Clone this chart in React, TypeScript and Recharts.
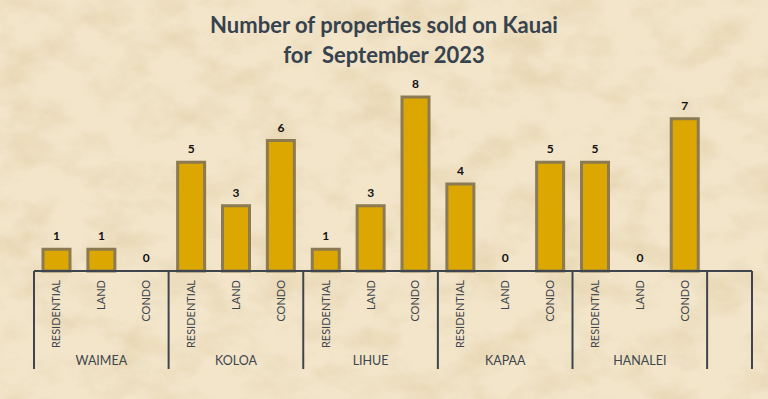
import { Bar, BarChart, XAxis, YAxis } from 'recharts';

const towns = ['WAIMEA', 'KOLOA', 'LIHUE', 'KAPAA', 'HANALEI'];
const propertyTypes = ['RESIDENTIAL', 'LAND', 'CONDO'];
// sold per town, in the order of propertyTypes
const sold = [1, 1, 0, 5, 3, 6, 1, 3, 8, 4, 0, 5, 5, 0, 7];

type Row = { key: string; town: string; type: string; sold: number | null };

const data: Row[] = [
  ...towns.flatMap((town, i) =>
    propertyTypes.map((type, j) => ({
      key: `${town}-${type}`,
      town,
      type,
      sold: sold[i * 3 + j],
    })),
  ),
  // the empty slot at the right end of the axis
  { key: 'blank', town: '', type: '', sold: null },
];

const W = 768;
const H = 399;
const LEFT = 34;
const RIGHT = 16;
const BAND = (W - LEFT - RIGHT) / data.length;
const AXIS_TEXT = '#3F454C';

function CategoryTick({ x, y, index }: { x: number; y: number; index: number }) {
  const row = data[index];
  if (!row) return null;
  return (
    <g>
      {row.type && (
        <text
          transform={`translate(${x + 4},${y + 9}) rotate(-90)`}
          textAnchor="end"
          fontSize={11}
          fontFamily="Lato, sans-serif"
          fill={AXIS_TEXT}
        >
          {row.type}
        </text>
      )}
      {index % 3 === 1 && (
        <text x={x} y={y + 94} textAnchor="middle" fontSize={12.5} fontFamily="Lato, sans-serif" fill={AXIS_TEXT}>
          {row.town}
        </text>
      )}
      {index % 3 === 0 && (
        <line x1={x - BAND / 2} x2={x - BAND / 2} y1={y} y2={y + 98} stroke={AXIS_TEXT} strokeWidth={2} />
      )}
      {index === data.length - 1 && (
        <line x1={x + BAND / 2} x2={x + BAND / 2} y1={y} y2={y + 98} stroke={AXIS_TEXT} strokeWidth={2} />
      )}
    </g>
  );
}

// bar plus its value label; zero bars still get their "0"
function LabeledBar(props: any) {
  const { x, y, width, height, value } = props;
  if (value == null) return null;
  const v = Array.isArray(value) ? value[1] - value[0] : value;
  return (
    <g>
      {height > 0 && (
        <rect x={x} y={y} width={width} height={height} fill="#DBA700" stroke="#8C7A52" strokeWidth={3} />
      )}
      <text
        x={x + width / 2}
        y={y - 9}
        textAnchor="middle"
        fontSize={12}
        fontWeight={700}
        fontFamily="Lato, sans-serif"
        fill="#111"
      >
        {v}
      </text>
    </g>
  );
}

function Parchment() {
  return (
    <svg width={W} height={H} style={{ position: 'absolute', left: 0, top: 0 }}>
      <defs>
        <filter id="paper" x="0" y="0" width="100%" height="100%">
          <feTurbulence type="fractalNoise" baseFrequency="0.02 0.03" numOctaves={5} seed={7} />
          <feColorMatrix
            type="matrix"
            values="0 0 0 0 0.78  0 0 0 0 0.65  0 0 0 0 0.42  2.6 0 0 0 -1.1"
          />
        </filter>
      </defs>
      <rect width={W} height={H} fill="#F2E5CA" />
      <rect width={W} height={H} filter="url(#paper)" opacity={0.7} />
    </svg>
  );
}

export default function App() {
  return (
    <div style={{ position: 'absolute', left: 0, top: 0, width: W, height: H, overflow: 'hidden' }}>
      <Parchment />
      <div
        style={{
          position: 'absolute',
          left: 0,
          top: 10,
          width: W,
          textAlign: 'center',
          fontFamily: 'Lato, sans-serif',
          fontWeight: 700,
          fontSize: 22,
          lineHeight: '30px',
          color: '#36424D',
          whiteSpace: 'pre',
        }}
      >
        {'Number of properties sold on Kauai\nfor  September 2023'}
      </div>
      <div style={{ position: 'absolute', left: 0, top: 0 }}>
        <BarChart width={W} height={H} data={data} margin={{ top: 97, right: RIGHT, left: LEFT, bottom: 28 }}>
          <XAxis
            dataKey="key"
            interval={0}
            height={100}
            tickLine={false}
            tickSize={0}
            tickMargin={0}
            axisLine={{ stroke: AXIS_TEXT, strokeWidth: 2 }}
            tick={(props: any) => <CategoryTick {...props} />}
          />
          <YAxis hide domain={[0, 8]} />
          <Bar dataKey="sold" barSize={27} shape={LabeledBar} isAnimationActive={false} />
        </BarChart>
      </div>
    </div>
  );
}
